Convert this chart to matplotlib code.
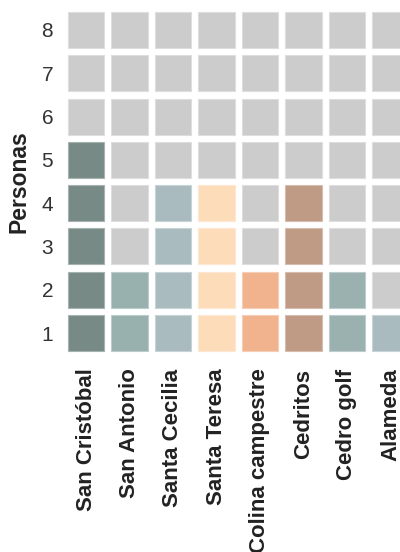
import matplotlib
matplotlib.use("Agg")
import matplotlib.pyplot as plt
from matplotlib.colors import to_rgb

# Datos
barrios = ['San Cristóbal', 'San Antonio', 'Santa Cecilia', 'Santa Teresa',
           'Colina campestre', 'Cedritos', 'Cedro golf', 'Alameda']
personas = [5, 2, 4, 4, 2, 4, 2, 1]
colores = ['#778a85', '#98b1af', '#a9bbbf', '#fddcba',
           '#f1b38e', '#bf9a84', '#9ab1b0', '#a9bbbf']
niveles = [1, 2, 3, 4, 5, 6, 7, 8]
gris = '#cccccc'

plt.rcParams['font.family'] = ['Liberation Sans', 'DejaVu Sans']

def aclarar(c, f=0.35):
    r, g, b = to_rgb(c)
    return (r + (1 - r) * f, g + (1 - g) * f, b + (1 - b) * f)

fig = plt.figure(figsize=(4, 5.52), dpi=100)
ax = fig.add_axes([64.25 / 400, (552 - 354.65) / 552, 348 / 400, 346.3 / 552])

lado = 0.83
for i, (n, c) in enumerate(zip(personas, colores)):
    for nivel in niveles:
        col = c if nivel <= n else gris
        ax.bar(i, lado, bottom=nivel - lado / 2, width=lado, color=col,
               edgecolor=aclarar(col), linewidth=0.8)

ax.set_xlim(-0.5, len(barrios) - 0.5)
ax.set_ylim(0.5, 8.5)
ax.set_xticks(range(len(barrios)))
ax.set_xticklabels(barrios, rotation=90, fontsize=16, fontweight='bold',
                   color='#222222', va='top')
ax.set_yticks(niveles)
ax.set_yticklabels([str(v) for v in niveles], fontsize=15, color='#333333')
ax.tick_params(axis='x', length=0, pad=10)
ax.tick_params(axis='y', length=0, pad=8)
ax.set_ylabel('Personas', fontsize=16.5, fontweight='bold', color='#222222',
              labelpad=8)
for s in ax.spines.values():
    s.set_visible(False)

fig.savefig('out.png', dpi=100)
